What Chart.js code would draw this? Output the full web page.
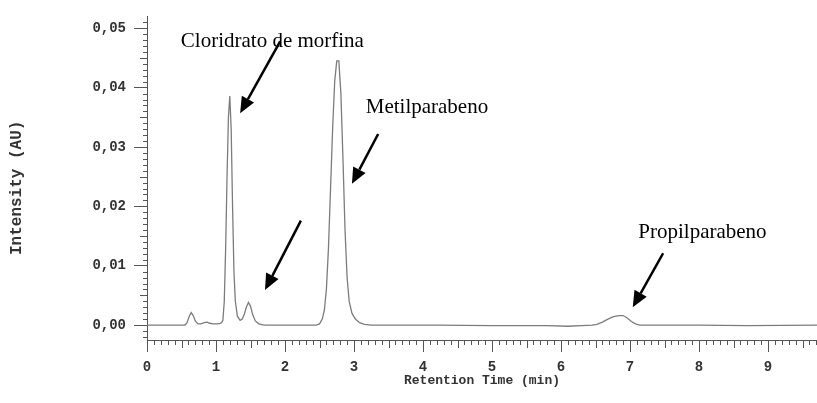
<!DOCTYPE html>
<html>
<head>
<meta charset="utf-8">
<script src="https://cdn.jsdelivr.net/npm/chart.js"></script>
<style>
  body { margin: 0; background: #fff; }
  #wrap { width: 817px; height: 403px; position: relative; }
</style>
</head>
<body>
<div id="wrap"><canvas id="chart"></canvas></div>
<script>
// chromatogram trace
const retentionTime = [
  0, 0.50, 0.55, 0.58, 0.61, 0.64, 0.67, 0.70, 0.74, 0.78, 0.83, 0.87, 0.91, 0.96, 1.02, 1.06,
  1.08, 1.10, 1.12, 1.14, 1.16, 1.18, 1.20, 1.22, 1.24, 1.26, 1.28, 1.31, 1.35,
  1.38, 1.41, 1.44, 1.47, 1.50, 1.53, 1.57, 1.62, 1.70,
  2.45, 2.50, 2.54, 2.57, 2.60, 2.63, 2.66, 2.69, 2.72, 2.75, 2.78, 2.81, 2.84, 2.87, 2.90, 2.93, 2.97, 3.02, 3.08, 3.15, 3.25,
  4.20, 5.00, 5.80, 6.10, 6.30,
  6.45, 6.52, 6.60, 6.68, 6.76, 6.84, 6.90, 6.96, 7.02, 7.08, 7.14,
  8.00, 8.70, 9.71
];
const intensity = [
  0, 0, 0.0000, 0.0004, 0.0014, 0.0021, 0.0016, 0.0007, 0.0002, 0.0002, 0.0004, 0.0005, 0.0003, 0.0002, 0.0002, 0.0003,
  0.0004, 0.0008, 0.0040, 0.0130, 0.0250, 0.0350, 0.0386, 0.0330, 0.0200, 0.0090, 0.0040, 0.0015, 0.0008,
  0.0010, 0.0018, 0.0030, 0.0038, 0.0032, 0.0018, 0.0007, 0.0002, 0.0000,
  0.0000, 0.0002, 0.0010, 0.0025, 0.0060, 0.0130, 0.0230, 0.0330, 0.0410, 0.0445, 0.0445, 0.0390, 0.0280, 0.0160, 0.0080, 0.0040, 0.0020, 0.0010, 0.0004, 0.0001, 0.0000,
  0.0000, -0.0001, -0.0001, -0.0002, -0.0001,
  0.0000, 0.0001, 0.0005, 0.0010, 0.0014, 0.0016, 0.0016, 0.0012, 0.0006, 0.0002, 0.0000,
  0.0000, -0.0001, 0.0000
];

const xTicks = [0, 1, 2, 3, 4, 5, 6, 7, 8, 9];
const xTickLabels = ['0', '1', '2', '3', '4', '5', '6', '7', '8', '9'];
const yTicks = [0, 0.01, 0.02, 0.03, 0.04, 0.05];
const yTickLabels = ['0,00', '0,01', '0,02', '0,03', '0,04', '0,05'];

// peak labels and arrows (data units)
const labelText = ['Cloridrato de morfina', 'Metilparabeno', 'Propilparabeno'];
const labelTime = [0.49, 3.17, 7.12];
const labelIntensity = [0.0478, 0.0367, 0.0156];
const arrowFromTime = [1.93, 3.35, 2.23, 7.48];
const arrowFromIntensity = [0.0478, 0.0322, 0.0176, 0.0121];
const arrowToTime = [1.35, 2.97, 1.71, 7.04];
const arrowToIntensity = [0.0357, 0.0238, 0.0059, 0.0030];

const axisColor = '#555';
const monoFont = '"Liberation Mono", "Courier New", monospace';

// minor ticks on both axes
const minorTicks = {
  id: 'minorTicks',
  afterDraw(chart) {
    const ctx = chart.ctx;
    const x = chart.scales.x, y = chart.scales.y;
    ctx.save();
    ctx.strokeStyle = axisColor;
    ctx.lineWidth = 1;
    ctx.beginPath();
    for (let i = 1; i < 98; i++) {
      if (i % 10 === 0) continue;
      const px = Math.round(x.getPixelForValue(i / 10)) + 0.5;
      const len = i % 5 === 0 ? 8 : 5;
      ctx.moveTo(px, x.top);
      ctx.lineTo(px, x.top + len);
    }
    for (let i = -2; i <= 51; i++) {
      if (i % 10 === 0) continue;
      const py = Math.round(y.getPixelForValue(i / 1000)) + 0.5;
      const len = Math.abs(i % 5) === 0 ? 7 : 4;
      ctx.moveTo(y.right, py);
      ctx.lineTo(y.right - len, py);
    }
    ctx.stroke();
    ctx.restore();
  }
};

const peakNotes = {
  id: 'peakNotes',
  afterDatasetsDraw(chart) {
    const ctx = chart.ctx;
    const x = chart.scales.x, y = chart.scales.y;
    ctx.save();
    ctx.fillStyle = '#000';
    ctx.strokeStyle = '#000';
    ctx.font = '21px "Liberation Serif", "Times New Roman", serif';
    ctx.textBaseline = 'middle';
    labelText.forEach((txt, i) => {
      ctx.fillText(txt, x.getPixelForValue(labelTime[i]), y.getPixelForValue(labelIntensity[i]));
    });
    ctx.lineWidth = 2.5;
    arrowFromTime.forEach((t, i) => {
      const x0 = x.getPixelForValue(t), y0 = y.getPixelForValue(arrowFromIntensity[i]);
      const x1 = x.getPixelForValue(arrowToTime[i]), y1 = y.getPixelForValue(arrowToIntensity[i]);
      const ang = Math.atan2(y1 - y0, x1 - x0);
      const head = 16, half = 7;
      const bx = x1 - head * Math.cos(ang), by = y1 - head * Math.sin(ang);
      ctx.beginPath();
      ctx.moveTo(x0, y0);
      ctx.lineTo(bx, by);
      ctx.stroke();
      ctx.beginPath();
      ctx.moveTo(x1, y1);
      ctx.lineTo(bx + half * Math.sin(ang), by - half * Math.cos(ang));
      ctx.lineTo(bx - half * Math.sin(ang), by + half * Math.cos(ang));
      ctx.closePath();
      ctx.fill();
    });
    ctx.restore();
  }
};

new Chart(document.getElementById('chart'), {
  type: 'line',
  data: {
    datasets: [{
      data: retentionTime.map((t, i) => ({ x: t, y: intensity[i] })),
      borderColor: '#7c7c7c',
      borderWidth: 1.3,
      pointRadius: 0,
      tension: 0,
      fill: false
    }]
  },
  options: {
    responsive: true,
    maintainAspectRatio: false,
    animation: false,
    layout: { padding: { top: 15, right: 0, left: 0, bottom: 0 } },
    plugins: { legend: { display: false }, tooltip: { enabled: false } },
    scales: {
      x: {
        type: 'linear',
        min: 0,
        max: 9.71,
        afterFit: s => { s.height = 63; },
        afterBuildTicks: s => { s.ticks = xTicks.map(v => ({ value: v })); },
        border: { display: true, color: axisColor, width: 1 },
        grid: { drawOnChartArea: false, tickLength: 12, tickColor: axisColor },
        ticks: {
          autoSkip: false,
          maxRotation: 0,
          padding: 7,
          color: '#333',
          font: { family: monoFont, size: 14, weight: 'bold' },
          callback: (v, i) => xTickLabels[i]
        },
        title: {
          display: true,
          text: 'Retention Time (min)',
          color: '#333',
          padding: { top: 0, bottom: 14 },
          font: { family: monoFont, size: 13, weight: 'bold' }
        }
      },
      y: {
        min: -0.00252,
        max: 0.05201,
        afterFit: s => { s.width = 147; },
        afterBuildTicks: s => { s.ticks = yTicks.map(v => ({ value: v })); },
        border: { display: true, color: axisColor, width: 1 },
        grid: { drawOnChartArea: false, tickLength: 13, tickColor: axisColor },
        ticks: {
          autoSkip: false,
          padding: 8,
          color: '#333',
          font: { family: monoFont, size: 14, weight: 'bold' },
          callback: (v, i) => yTickLabels[i]
        },
        title: {
          display: true,
          text: 'Intensity (AU)  ',
          color: '#333',
          padding: { top: 7, bottom: 0 },
          font: { family: monoFont, size: 16, weight: 'bold' }
        }
      }
    }
  },
  plugins: [minorTicks, peakNotes]
});
</script>
</body>
</html>
